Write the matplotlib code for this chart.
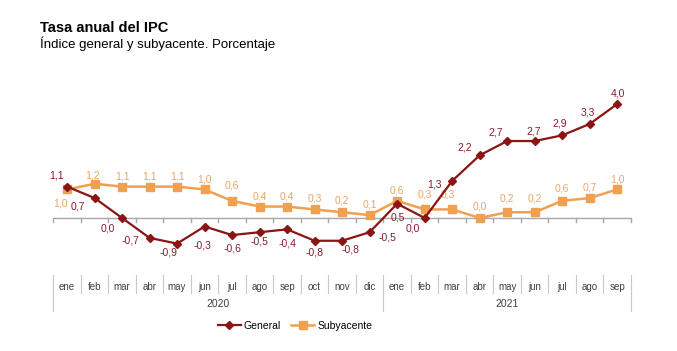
import matplotlib.pyplot as plt
from matplotlib.transforms import blended_transform_factory
import numpy as np

plt.rcParams['font.family'] = ['Liberation Sans', 'DejaVu Sans']

meses = ["ene", "feb", "mar", "abr", "may", "jun", "jul", "ago", "sep", "oct", "nov", "dic",
         "ene", "feb", "mar", "abr", "may", "jun", "jul", "ago", "sep"]
anios = ["2020", "2021"]
meses_por_anio = [12, 9]
general = [1.1, 0.7, 0.0, -0.7, -0.9, -0.3, -0.6, -0.5, -0.4, -0.8, -0.8, -0.5,
           0.5, 0.0, 1.3, 2.2, 2.7, 2.7, 2.9, 3.3, 4.0]
subyacente = [1.0, 1.2, 1.1, 1.1, 1.1, 1.0, 0.6, 0.4, 0.4, 0.3, 0.2, 0.1,
              0.6, 0.3, 0.3, 0.0, 0.2, 0.2, 0.6, 0.7, 1.0]

# desplazamiento de etiquetas (pixeles)
off_gen = [(-10, 11), (-17, -8), (-14, -11), (-19, -3), (-9, -9), (-2, -19), (0, -13),
           (0, -9), (0, -14), (0, -12), (8, -9), (18, -5), (1, -14), (-12, -11),
           (-18, -4), (-15, 8), (-12, 9), (-1, 10), (-2, 12), (-2, 11), (1, 10)]
off_sub = [(-7, -14), (-2, 8), (0, 10), (0, 10), (0, 10), (0, 10), (0, 15), (0, 10),
           (0, 10), (0, 11), (0, 12), (0, 11), (0, 10), (0, 15), (-4, 15), (0, 11),
           (0, 14), (0, 14), (0, 12), (0, 11), (0, 10)]

c_gen = "#8B1414"
c_gen_txt = "#8B1A2A"
c_sub = "#F0A050"
c_sub_txt = "#EBA565"
gris = "#A8A8A8"

W, H = 677, 351
fig = plt.figure(figsize=(W / 100, H / 100), dpi=100)

def fy(p):
    return 1 - p / H

left, right = 53.25, 631
top, bottom = 92.6, 255
ax = fig.add_axes([left / W, fy(bottom), (right - left) / W, (bottom - top) / H])

x = np.arange(len(meses))
ax.plot(x, subyacente, color=c_sub, lw=1.8, marker="s", ms=6, zorder=3)
ax.plot(x, general, color=c_gen, lw=1.6, marker="D", ms=4, zorder=4)
ax.axhline(0, color=gris, lw=1, zorder=1)

for i in range(len(x)):
    ax.annotate(f"{general[i]:.1f}".replace(".", ","), (x[i], general[i]),
                xytext=off_gen[i], textcoords="offset pixels", ha="center", va="center",
                fontsize=7.5, color=c_gen_txt)
    ax.annotate(f"{subyacente[i]:.1f}".replace(".", ","), (x[i], subyacente[i]),
                xytext=off_sub[i], textcoords="offset pixels", ha="center", va="center",
                fontsize=7.5, color=c_sub_txt)

ax.set_xlim(-0.5, len(meses) - 0.5)
ax.set_ylim(-1.3, 4.4)
ax.axis("off")

# marcas del eje y tabla de categorias
tr = blended_transform_factory(ax.transData, fig.transFigure)
y0 = 218
for b in np.arange(len(meses) + 1) - 0.5:
    ax.plot([b, b], [fy(y0), fy(y0 + 4)], color=gris, lw=1, transform=tr, clip_on=False)
    ax.plot([b, b], [fy(275), fy(293)], color="#C8C8C8", lw=0.8, transform=tr, clip_on=False)
for i, m in enumerate(meses):
    ax.text(i, fy(287), m, transform=tr, ha="center", va="center", fontsize=7, color="#404040")

inicio = -0.5
for anio, n in zip(anios, meses_por_anio):
    ax.plot([inicio, inicio], [fy(293), fy(311)], color="#C8C8C8", lw=0.8, transform=tr, clip_on=False)
    ax.text(inicio + n / 2, fy(304), anio, transform=tr, ha="center", va="center",
            fontsize=7.5, color="#404040")
    inicio += n
ax.plot([inicio, inicio], [fy(293), fy(311)], color="#C8C8C8", lw=0.8, transform=tr, clip_on=False)

h1, = ax.plot([], [], color=c_gen, lw=1.6, marker="D", ms=4)
h2, = ax.plot([], [], color=c_sub, lw=1.8, marker="s", ms=6)
fig.legend([h1, h2], ["General", "Subyacente"], loc="center",
           bbox_to_anchor=(295 / W, fy(326)), ncol=2, frameon=False, fontsize=7.5,
           handlelength=2.2, handletextpad=0.3, columnspacing=1.0)

fig.text(40 / W, fy(28), "Tasa anual del IPC", fontsize=10.5, fontweight="bold", va="center")
fig.text(40 / W, fy(44), "Índice general y subyacente. Porcentaje", fontsize=9.5, va="center")

fig.savefig("out.png", dpi=100)
